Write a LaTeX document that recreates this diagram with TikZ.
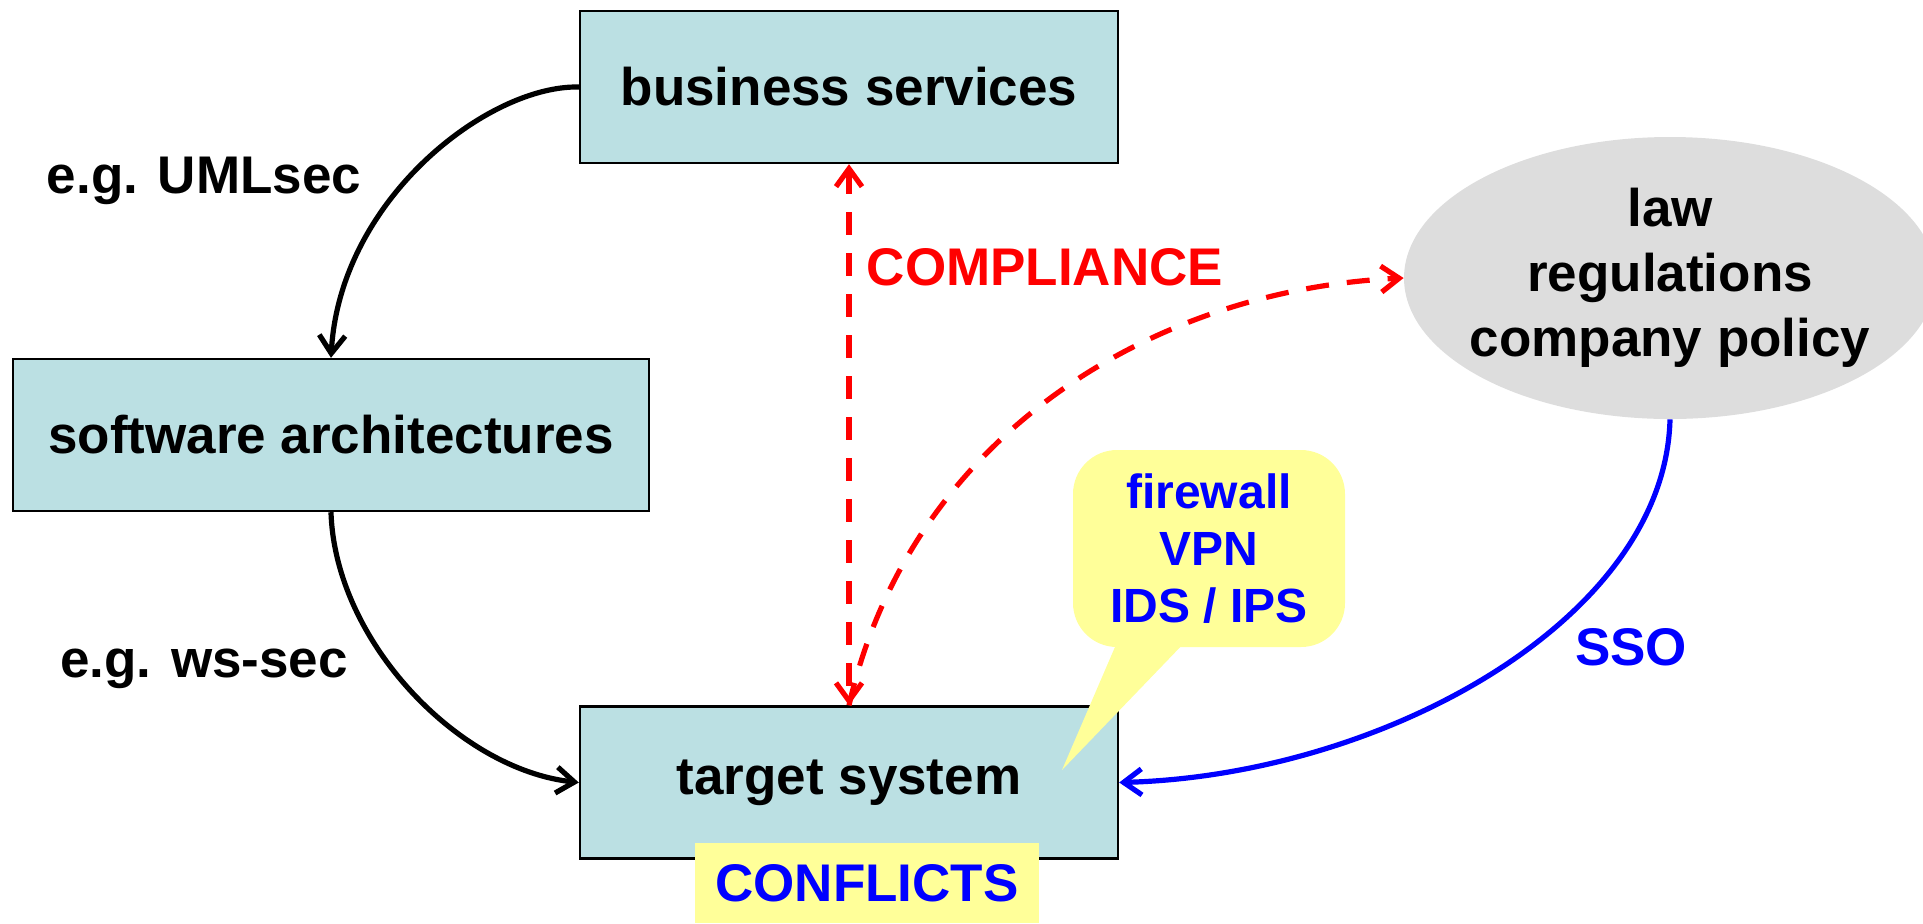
\documentclass[tikz,border=0pt]{standalone}
\usepackage{fontspec}
\setmainfont{Liberation Sans}
\usetikzlibrary{arrows.meta,shapes.geometric}
\definecolor{boxfill}{RGB}{187,224,227}
\definecolor{ellfill}{RGB}{221,221,221}
\definecolor{callfill}{RGB}{255,255,153}
\begin{document}
\begin{tikzpicture}[x=0.5pt,y=-0.5pt,
  >={Straight Barb[length=9pt,width=13pt,line width=2.6pt]},
  box/.style={draw=black, line width=1.2pt, fill=boxfill, minimum width=269pt, minimum height=76pt, inner sep=0pt, font=\fontsize{26.5}{32.5}\selectfont\bfseries},
  lbl/.style={anchor=base, inner sep=0pt, font=\fontsize{26.5}{32.5}\selectfont\bfseries},
  conn/.style={line width=2.6pt, ->},
  redconn/.style={draw=red, line width=2.6pt, dash pattern=on 11.5pt off 9pt},
  blueconn/.style={draw=blue, line width=2.6pt, ->},
  callout/.style={fill=callfill, rounded corners=22pt, minimum width=136pt, minimum height=98.5pt, inner sep=0pt, align=center, text=blue, font=\fontsize{24}{28.5}\selectfont\bfseries},
  lawell/.style={ellipse, fill=ellfill, minimum width=266pt, minimum height=141pt, inner sep=0pt},
  lawtext/.style={inner sep=0pt, align=center, font=\fontsize{26.5}{32.5}\selectfont\bfseries},
  conflict/.style={fill=callfill, minimum width=172pt, minimum height=40pt, inner sep=0pt, text=blue, font=\fontsize{26.5}{32.5}\selectfont\bfseries}
]
\useasboundingbox (0,0) rectangle (1923,923);

% nodes
\node[box] (bs) at (849,87) {business services};
\node[box, minimum width=318pt] (sa) at (331,435) {software architectures};
\node[box] (ts) at (849,782.5) {target system};
\node[lawell] (law) at (1670,278) {};
\node[lawtext] (lawt) at (law.center) {law\\regulations\\company policy};

% callout
\fill[callfill] (1118,640) -- (1062,770) -- (1187,640) -- cycle;
\node[callout] (cb) at (1209,548.5) {firewall\\VPN\\IDS / IPS};

% conflicts
\node[conflict] (cf) at (867,883) {CONFLICTS};

% black connectors
\draw[conn] (bs.west) .. controls +(-90,-2) and +(9,-159) .. (sa.north);
\draw[conn] (sa.south) .. controls +(4,129) and +(-120,-13) .. (ts.west);

% red compliance connectors
\draw[redconn, <->] (bs.south) -- (ts.north);
\draw[redconn, ->] (ts.north) .. controls +(61,-267) and +(-254,12) .. (law.west);

% blue SSO connector
\draw[blueconn] (law.south) .. controls +(-5,201) and +(262,-7) .. (ts.east);

% labels
\node[lbl] (l1) at (204,193) {e.g. UMLsec};
\node[lbl] (l2) at (204,677) {e.g. ws-sec};
\node[lbl, text=red] (l3) at (1045,285) {COMPLIANCE};
\node[lbl, text=blue] (l4) at (1631,665) {SSO};
\end{tikzpicture}
\end{document}
